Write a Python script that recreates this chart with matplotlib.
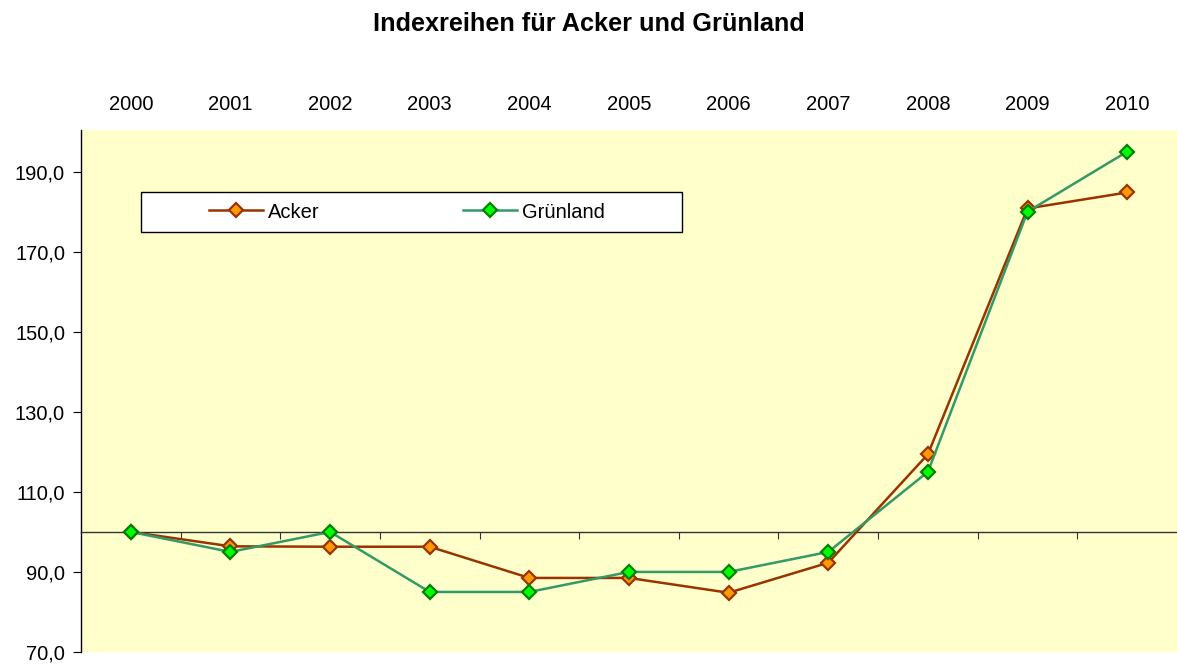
import matplotlib.pyplot as plt
from matplotlib.patches import Rectangle
from matplotlib.ticker import FuncFormatter

plt.rcParams['font.family'] = ['Liberation Sans', 'DejaVu Sans']

# Daten
jahre = ["2000", "2001", "2002", "2003", "2004", "2005", "2006", "2007", "2008", "2009", "2010"]
acker = [100.0, 96.4, 96.3, 96.3, 88.5, 88.5, 84.8, 92.3, 119.4, 180.8, 184.8]
gruenland = [100.0, 95.0, 100.0, 85.0, 85.0, 90.0, 90.0, 95.0, 115.0, 180.0, 195.0]

x = list(range(len(jahre)))
W, H = 1177, 664

fig = plt.figure(figsize=(W / 100, H / 100), dpi=100)
ax = fig.add_axes([81 / W, 12 / H, 1 - 81 / W, 522 / H])
ax.set_facecolor("#FFFFCC")

ax.plot(x, acker, color="#993300", lw=1.8, marker="D", ms=7.5,
        mfc="#FF9900", mec="#993300", mew=1.6, label="Acker", zorder=3)
ax.plot(x, gruenland, color="#339966", lw=1.8, marker="D", ms=7.5,
        mfc="#00FF00", mec="#008000", mew=1.6, label="Grünland", zorder=4)

ax.set_xlim(-0.5, len(jahre) - 0.5)
ax.set_ylim(70, 200.4)
ax.set_yticks(range(70, 200, 20))
ax.yaxis.set_major_formatter(FuncFormatter(lambda v, p: f"{v:.1f}".replace(".", ",")))
ax.tick_params(axis="y", direction="out", length=6, labelsize=14.5, pad=5.5)

# Kategorieachse kreuzt bei 100
for s in ["top", "right"]:
    ax.spines[s].set_visible(False)
ax.spines["left"].set_linewidth(1.0)
ax.spines["bottom"].set_position(("data", 100))
ax.spines["bottom"].set_color("#333333")
ax.spines["bottom"].set_linewidth(1.0)
ax.set_xticks([i + 0.5 for i in x[:-1]])
ax.set_xticklabels([])
ax.tick_params(axis="x", direction="out", length=5, color="#333333")

top = ax.secondary_xaxis("top")
top.set_xticks(x)
top.set_xticklabels(jahre)
top.tick_params(length=0, labelsize=14.5, pad=11.5)
top.spines["top"].set_visible(False)

# Legende mit Rahmen
lx0, lx1, ly0, ly1 = 141, 682, 192, 232
ax.add_patch(Rectangle(((lx0 - 81) / 1096, (652 - ly1) / 522), (lx1 - lx0) / 1096, (ly1 - ly0) / 522,
                       transform=ax.transAxes, facecolor="white", edgecolor="black", lw=1.0, zorder=5))
leg = ax.legend(loc="center", bbox_to_anchor=((407 - 81) / 1096, (652 - 212) / 522),
                ncol=2, fontsize=14.5, frameon=False, handlelength=2.7, handletextpad=0.25,
                columnspacing=7.1, borderaxespad=0)
leg.set_zorder(6)

fig.text(0.5, 1 - 31 / H, "Indexreihen für Acker und Grünland", ha="center", va="baseline",
         fontsize=18.2, fontweight="bold")

fig.savefig("out.png", dpi=100)
